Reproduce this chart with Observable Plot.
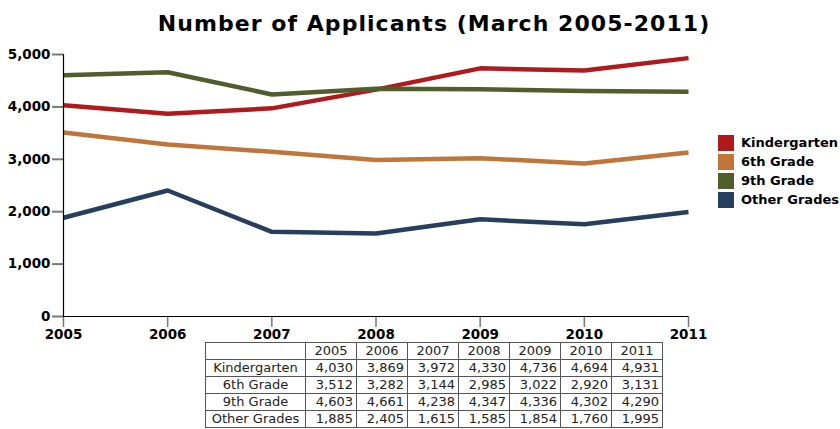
<!DOCTYPE html>
<html>
<head>
<meta charset="utf-8">
<script src="https://cdn.jsdelivr.net/npm/d3@7"></script>
<script src="https://cdn.jsdelivr.net/npm/@observablehq/plot@0.6"></script>
<style>
  body { margin: 0; background: #fff; }
  #wrap { position: relative; width: 840px; height: 429px; overflow: hidden; font-family: "DejaVu Sans", Verdana, sans-serif; }
  #title { position: absolute; left: 0; width: 868px; top: 11px; text-align: center; font-weight: bold; font-size: 22px; letter-spacing: 1.05px; color: #000; }
  #chart { position: absolute; left: 0; top: 0; }
  #legend { position: absolute; left: 718px; top: 133px; font-weight: bold; font-size: 13px; }
  .li { height: 19px; display: flex; align-items: center; }
  .sw { width: 16px; height: 16px; margin-right: 7px; }
  #tbl { position: absolute; left: 205px; top: 342px; border-collapse: collapse; font-size: 13px; color: #222; background: #fff; }
  #tbl td { border: 1px solid #555; height: 16px; padding: 0 3px; line-height: 16px; white-space: nowrap; }
  #tbl td.lab { width: 93px; text-align: center; }
  #tbl td.val { width: 44px; text-align: right; }
  #tbl td.hd { text-align: center; }
</style>
</head>
<body>
<div id="wrap">
  <div id="chart"></div>
  <div id="title">Number of Applicants (March 2005-2011)</div>
  <div id="legend"></div>
  <table id="tbl"></table>
</div>
<script>
const years = [2005, 2006, 2007, 2008, 2009, 2010, 2011];
const seriesNames = ["Kindergarten", "6th Grade", "9th Grade", "Other Grades"];
const kindergarten = [4030, 3869, 3972, 4330, 4736, 4694, 4931];
const sixthGrade = [3512, 3282, 3144, 2985, 3022, 2920, 3131];
const ninthGrade = [4603, 4661, 4238, 4347, 4336, 4302, 4290];
const otherGrades = [1885, 2405, 1615, 1585, 1854, 1760, 1995];
const colors = ["#B01A1C", "#C0763A", "#4F5E2C", "#273F5E"];
const yTicks = [0, 1000, 2000, 3000, 4000, 5000];

const seriesValues = [kindergarten, sixthGrade, ninthGrade, otherGrades];
const data = [];
seriesNames.forEach((s, i) => years.forEach((y, j) => data.push({series: s, year: y, value: seriesValues[i][j]})));

const fmt = d3.format(",");
const plot = Plot.plot({
  width: 840,
  height: 346,
  marginLeft: 63,
  marginRight: 152,
  marginTop: 54,
  marginBottom: 30,
  style: {fontFamily: "'DejaVu Sans', Verdana, sans-serif", fontSize: "13px", fontWeight: "bold", color: "#000", background: "transparent"},
  x: {domain: [2005, 2011], label: null},
  y: {domain: [0, 5000], label: null},
  color: {domain: seriesNames, range: colors},
  marks: [
    Plot.line(data, {x: "year", y: "value", z: "series", stroke: "series", strokeWidth: 4.5, strokeLinejoin: "round", strokeLinecap: "butt"}),
    Plot.axisY({ticks: yTicks, tickFormat: fmt, tickSize: 11, stroke: "#777", strokeWidth: 2, tickPadding: 2, fill: "#000", fontWeight: "bold", fontSize: 13.5}),
    Plot.axisX({ticks: years, tickFormat: d => String(d), tickSize: 11, stroke: "#777", strokeWidth: 1.5, tickPadding: 2, fill: "#000", fontWeight: "bold", fontSize: 13.5}),
    Plot.ruleX([2005], {stroke: "#000", strokeWidth: 1.2}),
    Plot.ruleY([0], {stroke: "#000", strokeWidth: 1.2})
  ]
});
document.getElementById("chart").appendChild(plot);

const legend = document.getElementById("legend");
seriesNames.forEach((s, i) => {
  const row = document.createElement("div");
  row.className = "li";
  row.innerHTML = `<div class="sw" style="background:${colors[i]}"></div><span>${s}</span>`;
  legend.appendChild(row);
});

const tbl = document.getElementById("tbl");
let html = "<tr><td class='lab'></td>" + years.map(y => `<td class='hd'>${y}</td>`).join("") + "</tr>";
seriesNames.forEach((s, i) => {
  html += `<tr><td class='lab'>${s}</td>` + seriesValues[i].map(v => `<td class='val'>${fmt(v)}</td>`).join("") + "</tr>";
});
tbl.innerHTML = html;
</script>
</body>
</html>
